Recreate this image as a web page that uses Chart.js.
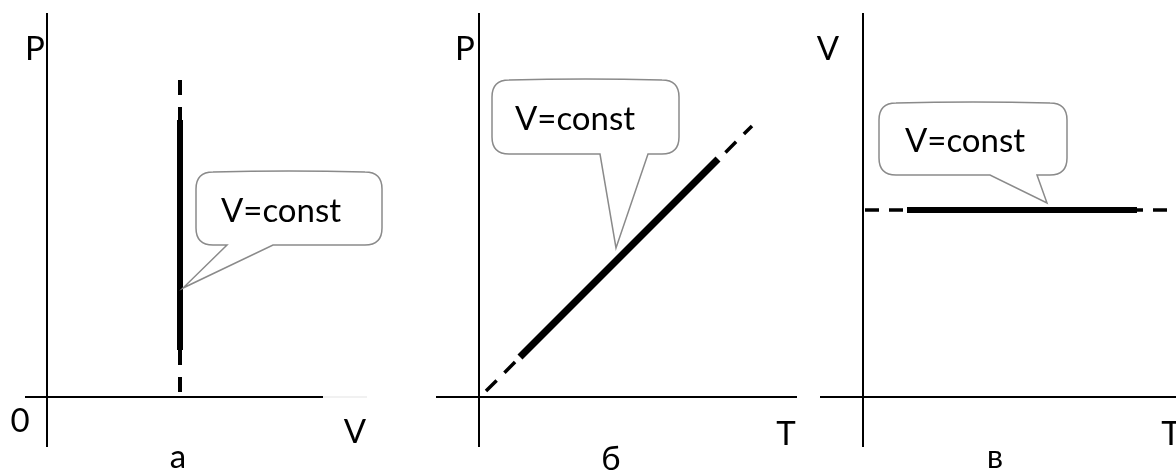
<!DOCTYPE html>
<html>
<head>
<meta charset="utf-8">
<script src="https://cdn.jsdelivr.net/npm/chart.js@4/dist/chart.umd.min.js"></script>
<style>
  body { margin: 0; background: #fff; }
  #wrap { position: relative; width: 1176px; height: 471px; overflow: hidden; }
  canvas { position: absolute; top: 0; }
</style>
</head>
<body>
<div id="wrap">
  <canvas id="panel-a" width="400" height="471" style="left:0px"></canvas>
  <canvas id="panel-b" width="410" height="471" style="left:400px"></canvas>
  <canvas id="panel-c" width="366" height="471" style="left:810px"></canvas>
</div>
<script>
// panel а: P(V), isochore is a vertical line
const a_dash_v = [3.325, 3.325];
const a_dash_p = [0.125, 7.975];
const a_bold_v = [3.325, 3.325];
const a_bold_p = [1.175, 6.925];

// panel б: P(T), straight line through origin
const b_dash_t = [0.175, 6.825];
const b_dash_p = [0.15, 6.775];
const b_bold_t = [1.025, 5.975];
const b_bold_p = [1.0, 5.95];

// panel в: V(T), horizontal line
const c_dash_t = [0.05, 7.825];
const c_dash_v = [4.675, 4.675];
const c_bold_t = [1.1, 6.85];
const c_bold_v = [4.675, 4.675];

// axis lines (x from..to at y=0, y from..to at x=0)
const a_axis_x = [-0.55, 6.9];
const a_axis_y = [-1.25, 9.6];
const b_axis_x = [-1.075, 7.95];
const b_axis_y = [-1.25, 9.6];
const c_axis_x = [-1.075, 7.9];
const c_axis_y = [-1.25, 9.6];

const a_labels = ['P', '0', 'V', 'а'];
const b_labels = ['P', 'T', 'б'];
const c_labels = ['V', 'T', 'в'];
const callout_text = 'V=const';

const FONT = '33px Lato, "Open Sans", sans-serif';

function pts(xs, ys) {
  let out = [];
  for (let i = 0; i < xs.length; i++) {
    out.push({ x: xs[i], y: ys[i] });
  };
  return out;
}

function line(data, width, dash, color) {
  return {
    data: data,
    showLine: true,
    borderColor: color || '#000',
    borderWidth: width,
    borderDash: dash || [],
    borderCapStyle: 'butt',
    pointRadius: 0,
    fill: false,
  };
}

// draws the axis letters and the speech-bubble callout
const sketch = {
  id: 'sketch',
  afterDatasetsDraw(chart, args, opts) {
    const ctx = chart.ctx;
    const xs = chart.scales.x;
    const ys = chart.scales.y;
    const px = v => xs.getPixelForValue(v);
    const py = v => ys.getPixelForValue(v);

    const c = opts.callout;
    const x0 = px(c.box[0]), x1 = px(c.box[1]);
    const y0 = py(c.box[2]), y1 = py(c.box[3]);
    const b0 = px(c.base[0]), b1 = px(c.base[1]);
    const tx = px(c.tip[0]), ty = py(c.tip[1]);
    const r = 17;

    ctx.save();
    ctx.beginPath();
    ctx.moveTo(x0 + r, y0);
    ctx.quadraticCurveTo((x0 + x1) / 2, y0 - 2, x1 - r, y0);
    ctx.quadraticCurveTo(x1, y0, x1, y0 + r);
    ctx.lineTo(x1, y1 - r);
    ctx.quadraticCurveTo(x1, y1, x1 - r, y1);
    ctx.lineTo(b1, y1);
    ctx.lineTo(tx, ty);
    ctx.lineTo(b0, y1);
    ctx.lineTo(x0 + r, y1);
    ctx.quadraticCurveTo(x0, y1, x0, y1 - r);
    ctx.lineTo(x0, y0 + r);
    ctx.quadraticCurveTo(x0, y0, x0 + r, y0);
    ctx.closePath();
    ctx.fillStyle = '#fff';
    ctx.fill();
    ctx.strokeStyle = '#8a8a8a';
    ctx.lineWidth = 1.5;
    ctx.stroke();

    ctx.fillStyle = '#000';
    ctx.font = FONT;
    ctx.textAlign = 'center';
    ctx.textBaseline = 'alphabetic';
    ctx.fillText(callout_text, px(c.text[0]), py(c.text[1]));

    opts.labels.forEach(element => {
      ctx.fillText(element.t, px(element.x), py(element.y));
    });
    ctx.restore();
  }
};

function make_panel(id, range, datasets, labels, callout) {
  const el = document.getElementById(id);
  return new Chart(el, {
    type: 'scatter',
    data: { datasets: datasets },
    options: {
      responsive: false,
      animation: false,
      events: [],
      layout: { padding: 0 },
      plugins: {
        legend: { display: false },
        tooltip: { enabled: false },
        sketch: { labels: labels, callout: callout },
      },
      scales: {
        x: { type: 'linear', display: false, min: range[0], max: range[1] },
        y: { type: 'linear', display: false, min: -1.85, max: 9.925 },
      },
    },
    plugins: [sketch],
  });
}

make_panel('panel-a', [-1.175, 8.825], [
  line(pts(a_bold_v, a_bold_p), 6),
  line(pts(a_dash_v, a_dash_p), 4, [15, 12]),
  line(pts(a_axis_x, [0, 0]), 2),
  line(pts([6.9, 8.0], [0, 0]), 1.5, [], '#ececec'),
  line(pts([0, 0], a_axis_y), 2),
], [
  { t: a_labels[0], x: -0.3, y: 8.425 },
  { t: a_labels[1], x: -0.675, y: -0.875 },
  { t: a_labels[2], x: 7.7, y: -1.15 },
  { t: a_labels[3], x: 3.275, y: -1.775 },
], { box: [3.725, 8.375, 5.625, 3.8], base: [4.5, 5.65], tip: [3.4, 2.725], text: [5.85, 4.375] });

make_panel('panel-b', [-1.975, 8.275], [
  line(pts(b_bold_t, b_bold_p), 7),
  line(pts(b_dash_t, b_dash_p), 3.5, [15, 11]),
  line(pts(b_axis_x, [0, 0]), 2),
  line(pts([0, 0], b_axis_y), 2),
], [
  { t: b_labels[0], x: -0.35, y: 8.425 },
  { t: b_labels[1], x: 7.675, y: -1.2 },
  { t: b_labels[2], x: 3.3, y: -1.825 },
], { box: [0.325, 5.0, 7.925, 6.075], base: [3.025, 4.225], tip: [3.425, 3.725], text: [2.4, 6.675] });

make_panel('panel-c', [-1.325, 7.825], [
  line(pts(c_bold_t, c_bold_v), 6),
  line(pts(c_dash_t, c_dash_v), 3.5, [14, 10]),
  line(pts(c_axis_x, [0, 0]), 2),
  line(pts([0, 0], c_axis_y), 2),
], [
  { t: c_labels[0], x: -0.875, y: 8.425 },
  { t: c_labels[1], x: 7.7, y: -1.2 },
  { t: c_labels[2], x: 3.3, y: -1.775 },
], { box: [0.4, 5.1, 7.35, 5.55], base: [3.175, 4.35], tip: [4.6, 4.85], text: [2.55, 6.125] });
</script>
</body>
</html>
